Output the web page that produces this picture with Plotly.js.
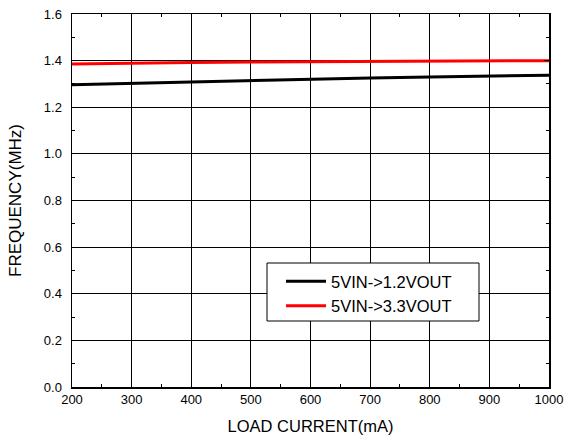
<!DOCTYPE html>
<html>
<head>
<meta charset="utf-8">
<script src="https://cdn.plot.ly/plotly-3.0.1.min.js"></script>
<style>html,body{margin:0;padding:0;background:#fff;}#chart{width:566px;height:447px;}</style>
</head>
<body>
<div id="chart"></div>
<script>
const loadCurrent = [200, 300, 400, 500, 600, 700, 800, 900, 1000];
const freq12 = [1.297, 1.303, 1.309, 1.316, 1.322, 1.326, 1.330, 1.334, 1.337];
const freq33 = [1.386, 1.390, 1.392, 1.394, 1.395, 1.396, 1.397, 1.398, 1.400];
const seriesNames = ['5VIN->1.2VOUT', '5VIN->3.3VOUT'];
const xTicks = [200, 300, 400, 500, 600, 700, 800, 900, 1000];
const yTicks = [0.0, 0.2, 0.4, 0.6, 0.8, 1.0, 1.2, 1.4, 1.6];

const traces = [
  {x: loadCurrent, y: freq12, name: seriesNames[0], mode: 'lines', line: {color: '#000000', width: 3}},
  {x: loadCurrent, y: freq33, name: seriesNames[1], mode: 'lines', line: {color: '#ff0000', width: 3}}
];

const fontFam = 'Liberation Sans, Arial, sans-serif';
const axisCommon = {
  showline: true, linecolor: '#000', linewidth: 1.5, mirror: 'allticks',
  ticks: 'inside', ticklen: 5, tickcolor: '#000', tickwidth: 1,
  showgrid: true, gridcolor: '#000', gridwidth: 1, zeroline: false,
  tickfont: {family: fontFam, size: 13, color: '#000'}
};

// plot area in pixels: left 72, right 549, top 14, bottom 387
const layout = {
  width: 566, height: 447,
  margin: {l: 72, r: 17, t: 14, b: 60},
  paper_bgcolor: '#fff', plot_bgcolor: '#fff',
  showlegend: true,
  font: {family: fontFam, color: '#000'},
  xaxis: Object.assign({}, axisCommon, {
    range: [200, 1000], tickvals: xTicks, ticktext: xTicks.map(String),
    minor: {ticks: 'inside', ticklen: 3, tickcolor: '#000', showgrid: false, dtick: 50, tick0: 200},
    title: {text: 'LOAD CURRENT(mA)', font: {size: 16.5, color: '#000'}, standoff: 14}
  }),
  yaxis: Object.assign({}, axisCommon, {
    range: [0, 1.6], tickvals: yTicks, ticktext: yTicks.map(v => v.toFixed(1)),
    ticklabelstandoff: 6,
    minor: {ticks: 'inside', ticklen: 3, tickcolor: '#000', showgrid: false, dtick: 0.1, tick0: 0},
    title: {text: 'FREQUENCY(MHz)', font: {size: 17, color: '#000'}, standoff: 18}
  }),
  shapes: [{
    type: 'rect', xref: 'paper', yref: 'paper', layer: 'above',
    x0: (267 - 72) / 477, x1: (479 - 72) / 477,
    y0: (387 - 321) / 373, y1: (387 - 263) / 373,
    fillcolor: '#fff', line: {color: '#000', width: 1}
  }],
  legend: {
    x: (281 - 72) / 477, y: (387 - 264) / 373, xanchor: 'left', yanchor: 'top',
    bgcolor: 'rgba(0,0,0,0)', borderwidth: 0,
    font: {size: 16.5, color: '#000'},
    itemwidth: 40, tracegroupgap: 0
  }
};

Plotly.newPlot('chart', traces, layout, {displayModeBar: false, staticPlot: true});
</script>
</body>
</html>
